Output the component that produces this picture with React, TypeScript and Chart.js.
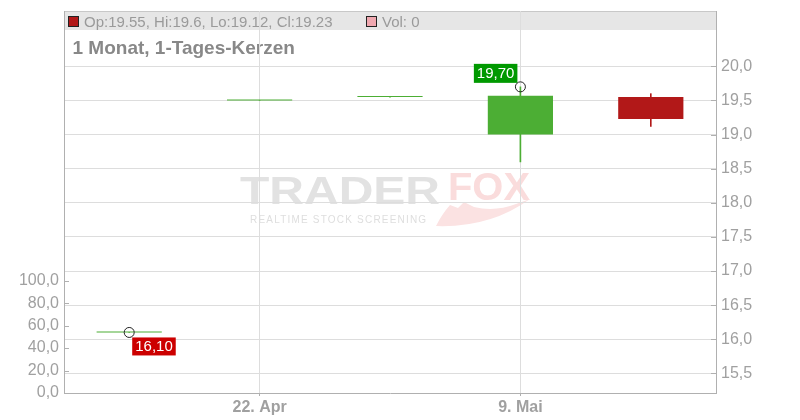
import React, { useEffect, useRef } from 'react';
import { Chart, registerables } from 'chart.js';

Chart.register(...registerables);

// ---- data ----
const categories = ['17. Apr', '22. Apr', '30. Apr', '9. Mai', '14. Mai'];
const shownDateLabels = ['22. Apr', '9. Mai'];
const openValues = [16.1, 19.5, 19.55, 19.0, 19.55];
const highValues = [16.1, 19.5, 19.55, 19.7, 19.6];
const lowValues = [16.1, 19.5, 19.55, 18.6, 19.12];
const closeValues = [16.1, 19.5, 19.55, 19.57, 19.23];
const volumeValues = [0, 0, 0, 0, 0];
const priceTicks = [15.5, 16.0, 16.5, 17.0, 17.5, 18.0, 18.5, 19.0, 19.5, 20.0];
const volumeTicks = [0, 20, 40, 60, 80, 100];
const chartTitle = '1 Monat, 1-Tages-Kerzen';

const FONT = "'Liberation Sans', Arial, Helvetica, sans-serif";
const GREEN = '#4cae34';
const RED = '#b21818';
const GRID = '#dddddd';
const AXIS = '#b0b0b0';
const LABEL = '#a0a0a0';

const de = (v: number, d: number) => v.toFixed(d).replace('.', ',');

const noPad = (s: any) => {
  s.paddingTop = 0;
  s.paddingBottom = 0;
  s.paddingLeft = 0;
  s.paddingRight = 0;
};

export default function App() {
  const ref = useRef<HTMLCanvasElement>(null);

  useEffect(() => {
    if (!ref.current) return;
    const last = categories.length - 1;
    const hiVal = Math.max(...highValues);
    const hiIdx = highValues.indexOf(hiVal);
    const loVal = Math.min(...lowValues);
    const loIdx = lowValues.indexOf(loVal);
    const candleColors = categories.map((_, i) => (closeValues[i] >= openValues[i] ? GREEN : RED));
    const markerData = categories.map((_, i) => (i === hiIdx ? hiVal : i === loIdx ? loVal : null));

    const decorPlugin = {
      id: 'decor',
      beforeDraw(chart: any) {
        const ctx = chart.ctx;
        const ca = chart.chartArea;
        ctx.save();
        // watermark
        const cx = (ca.left + ca.right) / 2;
        ctx.font = `bold 38px ${FONT}`;
        ctx.textBaseline = 'alphabetic';
        const drawStretched = (t: string, x: number, y: number, w: number, color: string) => {
          const m = ctx.measureText(t).width;
          ctx.save();
          ctx.translate(x, y);
          ctx.scale(w / m, 1);
          ctx.fillStyle = color;
          ctx.fillText(t, 0, 0);
          ctx.restore();
        };
        drawStretched('TRADER', cx - 150, 204, 200, '#e2e2e2');
        drawStretched('FOX', cx + 58, 200, 82, '#fadcdc');
        ctx.fillStyle = '#dedede';
        ctx.font = `10px ${FONT}`;
        (ctx as any).letterSpacing = '1.2px';
        ctx.fillText('REALTIME STOCK SCREENING', cx - 140, 223);
        (ctx as any).letterSpacing = '0px';
        // fox tail
        ctx.fillStyle = '#fbe2e2';
        ctx.beginPath();
        ctx.moveTo(cx + 46, 226);
        ctx.quadraticCurveTo(cx + 100, 228, cx + 140, 199);
        ctx.lineTo(cx + 126, 204);
        ctx.quadraticCurveTo(cx + 105, 212, cx + 84, 207);
        ctx.lineTo(cx + 74, 202);
        ctx.lineTo(cx + 68, 208);
        ctx.lineTo(cx + 60, 205);
        ctx.quadraticCurveTo(cx + 52, 214, cx + 46, 226);
        ctx.fill();

        // header band
        ctx.fillStyle = '#e6e6e6';
        ctx.fillRect(ca.left, ca.top, ca.right - ca.left, 19);
        ctx.strokeStyle = '#c8c8c8';
        ctx.lineWidth = 1;
        ctx.beginPath();
        ctx.moveTo(ca.left, ca.top + 0.5);
        ctx.lineTo(ca.right, ca.top + 0.5);
        ctx.stroke();
        // legend squares
        ctx.fillStyle = candleColors[last];
        ctx.fillRect(68.5, 16.5, 10, 10);
        ctx.strokeStyle = '#222';
        ctx.strokeRect(68.5, 16.5, 10, 10);
        ctx.fillStyle = '#f0a8b0';
        ctx.fillRect(366.5, 16.5, 10, 10);
        ctx.strokeRect(366.5, 16.5, 10, 10);
        ctx.font = `15px ${FONT}`;
        ctx.fillStyle = '#9a9a9a';
        ctx.fillText(
          `Op:${openValues[last]}, Hi:${highValues[last]}, Lo:${lowValues[last]}, Cl:${closeValues[last]}`,
          84, 26.5
        );
        ctx.fillText(`Vol: ${volumeValues[last]}`, 382, 26.5);
        // title
        ctx.font = `bold 19px ${FONT}`;
        ctx.fillStyle = '#888888';
        ctx.fillText(chartTitle, 72.5, 54);
        ctx.restore();
      },
      afterDraw(chart: any) {
        const ctx = chart.ctx;
        const ca = chart.chartArea;
        const x = chart.scales.x;
        const y = chart.scales.y;
        const yv = chart.scales.yVol;
        ctx.save();
        // inner tick marks
        ctx.strokeStyle = AXIS;
        ctx.lineWidth = 1;
        ctx.beginPath();
        volumeTicks.forEach((v) => {
          const py = Math.round(yv.getPixelForValue(v)) + 0.5;
          ctx.moveTo(ca.left, py);
          ctx.lineTo(ca.left + 5, py);
        });
        priceTicks.forEach((v) => {
          const py = Math.round(y.getPixelForValue(v)) + 0.5;
          ctx.moveTo(ca.right - 5, py);
          ctx.lineTo(ca.right, py);
        });
        ctx.stroke();
        // high / low labels
        ctx.font = `15px ${FONT}`;
        ctx.textBaseline = 'alphabetic';
        ctx.textAlign = 'left';
        const hx = x.getPixelForValue(hiIdx);
        const hy = y.getPixelForValue(hiVal);
        const ht = de(hiVal, 2);
        const hw = ctx.measureText(ht).width + 6;
        ctx.fillStyle = '#009900';
        ctx.fillRect(hx - 3 - hw, hy - 4 - 19, hw, 19);
        ctx.fillStyle = '#ffffff';
        ctx.fillText(ht, hx - hw, hy - 4 - 4.5);
        const lx = x.getPixelForValue(loIdx);
        const ly = y.getPixelForValue(loVal);
        const lt = de(loVal, 2);
        const lw = ctx.measureText(lt).width + 6;
        ctx.fillStyle = '#cc0000';
        ctx.fillRect(lx + 3, ly + 5, lw, 18);
        ctx.fillStyle = '#ffffff';
        ctx.fillText(lt, lx + 6, ly + 5 + 14);
        ctx.restore();
      },
    };

    const chart = new Chart(ref.current, {
      type: 'bar',
      data: {
        labels: categories,
        datasets: [
          {
            type: 'line',
            label: 'Extrema',
            data: markerData,
            showLine: false,
            pointRadius: 5,
            pointHoverRadius: 5,
            pointBorderColor: '#222222',
            pointBackgroundColor: 'rgba(0,0,0,0)',
            pointBorderWidth: 1,
            yAxisID: 'y',
          } as any,
          {
            label: 'Body',
            data: categories.map((_, i) => [
              Math.min(openValues[i], closeValues[i]),
              Math.max(openValues[i], closeValues[i]),
            ]),
            backgroundColor: candleColors,
            borderWidth: 0,
            minBarLength: 1,
            grouped: false,
            categoryPercentage: 1,
            barPercentage: 0.5,
            yAxisID: 'y',
          },
          {
            label: 'Wick',
            data: categories.map((_, i) => [lowValues[i], highValues[i]]),
            backgroundColor: candleColors,
            borderWidth: 0,
            barThickness: 1,
            grouped: false,
            yAxisID: 'y',
          },
          {
            label: 'Vol',
            data: volumeValues,
            backgroundColor: '#f0a8b0',
            borderWidth: 0,
            grouped: false,
            categoryPercentage: 1,
            barPercentage: 0.5,
            yAxisID: 'yVol',
          },
        ],
      },
      options: {
        animation: false,
        responsive: false,
        events: [],
        layout: { padding: { top: 11, left: 0, right: 0, bottom: 0 } },
        plugins: { legend: { display: false }, tooltip: { enabled: false } },
        scales: {
          x: {
            type: 'category',
            offset: true,
            grid: {
              offset: false,
              color: (c: any) => (shownDateLabels.includes(categories[c.index]) ? GRID : 'rgba(0,0,0,0)'),
              tickColor: (c: any) => (shownDateLabels.includes(categories[c.index]) ? AXIS : 'rgba(0,0,0,0)'),
              tickLength: 3,
            },
            border: { color: AXIS },
            ticks: {
              autoSkip: false,
              maxRotation: 0,
              padding: 2,
              color: LABEL,
              font: { family: FONT, size: 16, weight: 'bold' },
              callback: (_v: any, i: number) => (shownDateLabels.includes(categories[i]) ? categories[i] : ''),
            },
            afterFit: (s: any) => {
              s.height = 27;
              noPad(s);
            },
          },
          y: {
            type: 'linear',
            position: 'right',
            min: 15.2125,
            max: 20.8119,
            afterBuildTicks: (s: any) => {
              s.ticks = priceTicks.map((v) => ({ value: v }));
            },
            grid: { color: GRID, drawTicks: false },
            border: { color: AXIS },
            ticks: {
              autoSkip: false,
              padding: 5,
              color: LABEL,
              font: { family: FONT, size: 16 },
              callback: (v: any) => de(Number(v), 1),
            },
            afterFit: (s: any) => {
              s.width = 84;
              noPad(s);
            },
          },
          yVol: {
            type: 'linear',
            position: 'left',
            min: 0,
            max: 340.2,
            afterBuildTicks: (s: any) => {
              s.ticks = volumeTicks.map((v) => ({ value: v }));
            },
            grid: { drawOnChartArea: false, drawTicks: false },
            border: { color: AXIS },
            ticks: {
              autoSkip: false,
              padding: 5,
              color: LABEL,
              font: { family: FONT, size: 16 },
              callback: (v: any) => de(Number(v), 1),
            },
            afterFit: (s: any) => {
              s.width = 64;
              noPad(s);
            },
          },
        },
      } as any,
      plugins: [decorPlugin],
    });
    return () => chart.destroy();
  }, []);

  return (
    <div style={{ position: 'fixed', left: 0, top: 0, width: 800, height: 420, background: '#fff' }}>
      <canvas ref={ref} width={800} height={420} style={{ display: 'block' }} />
    </div>
  );
}
